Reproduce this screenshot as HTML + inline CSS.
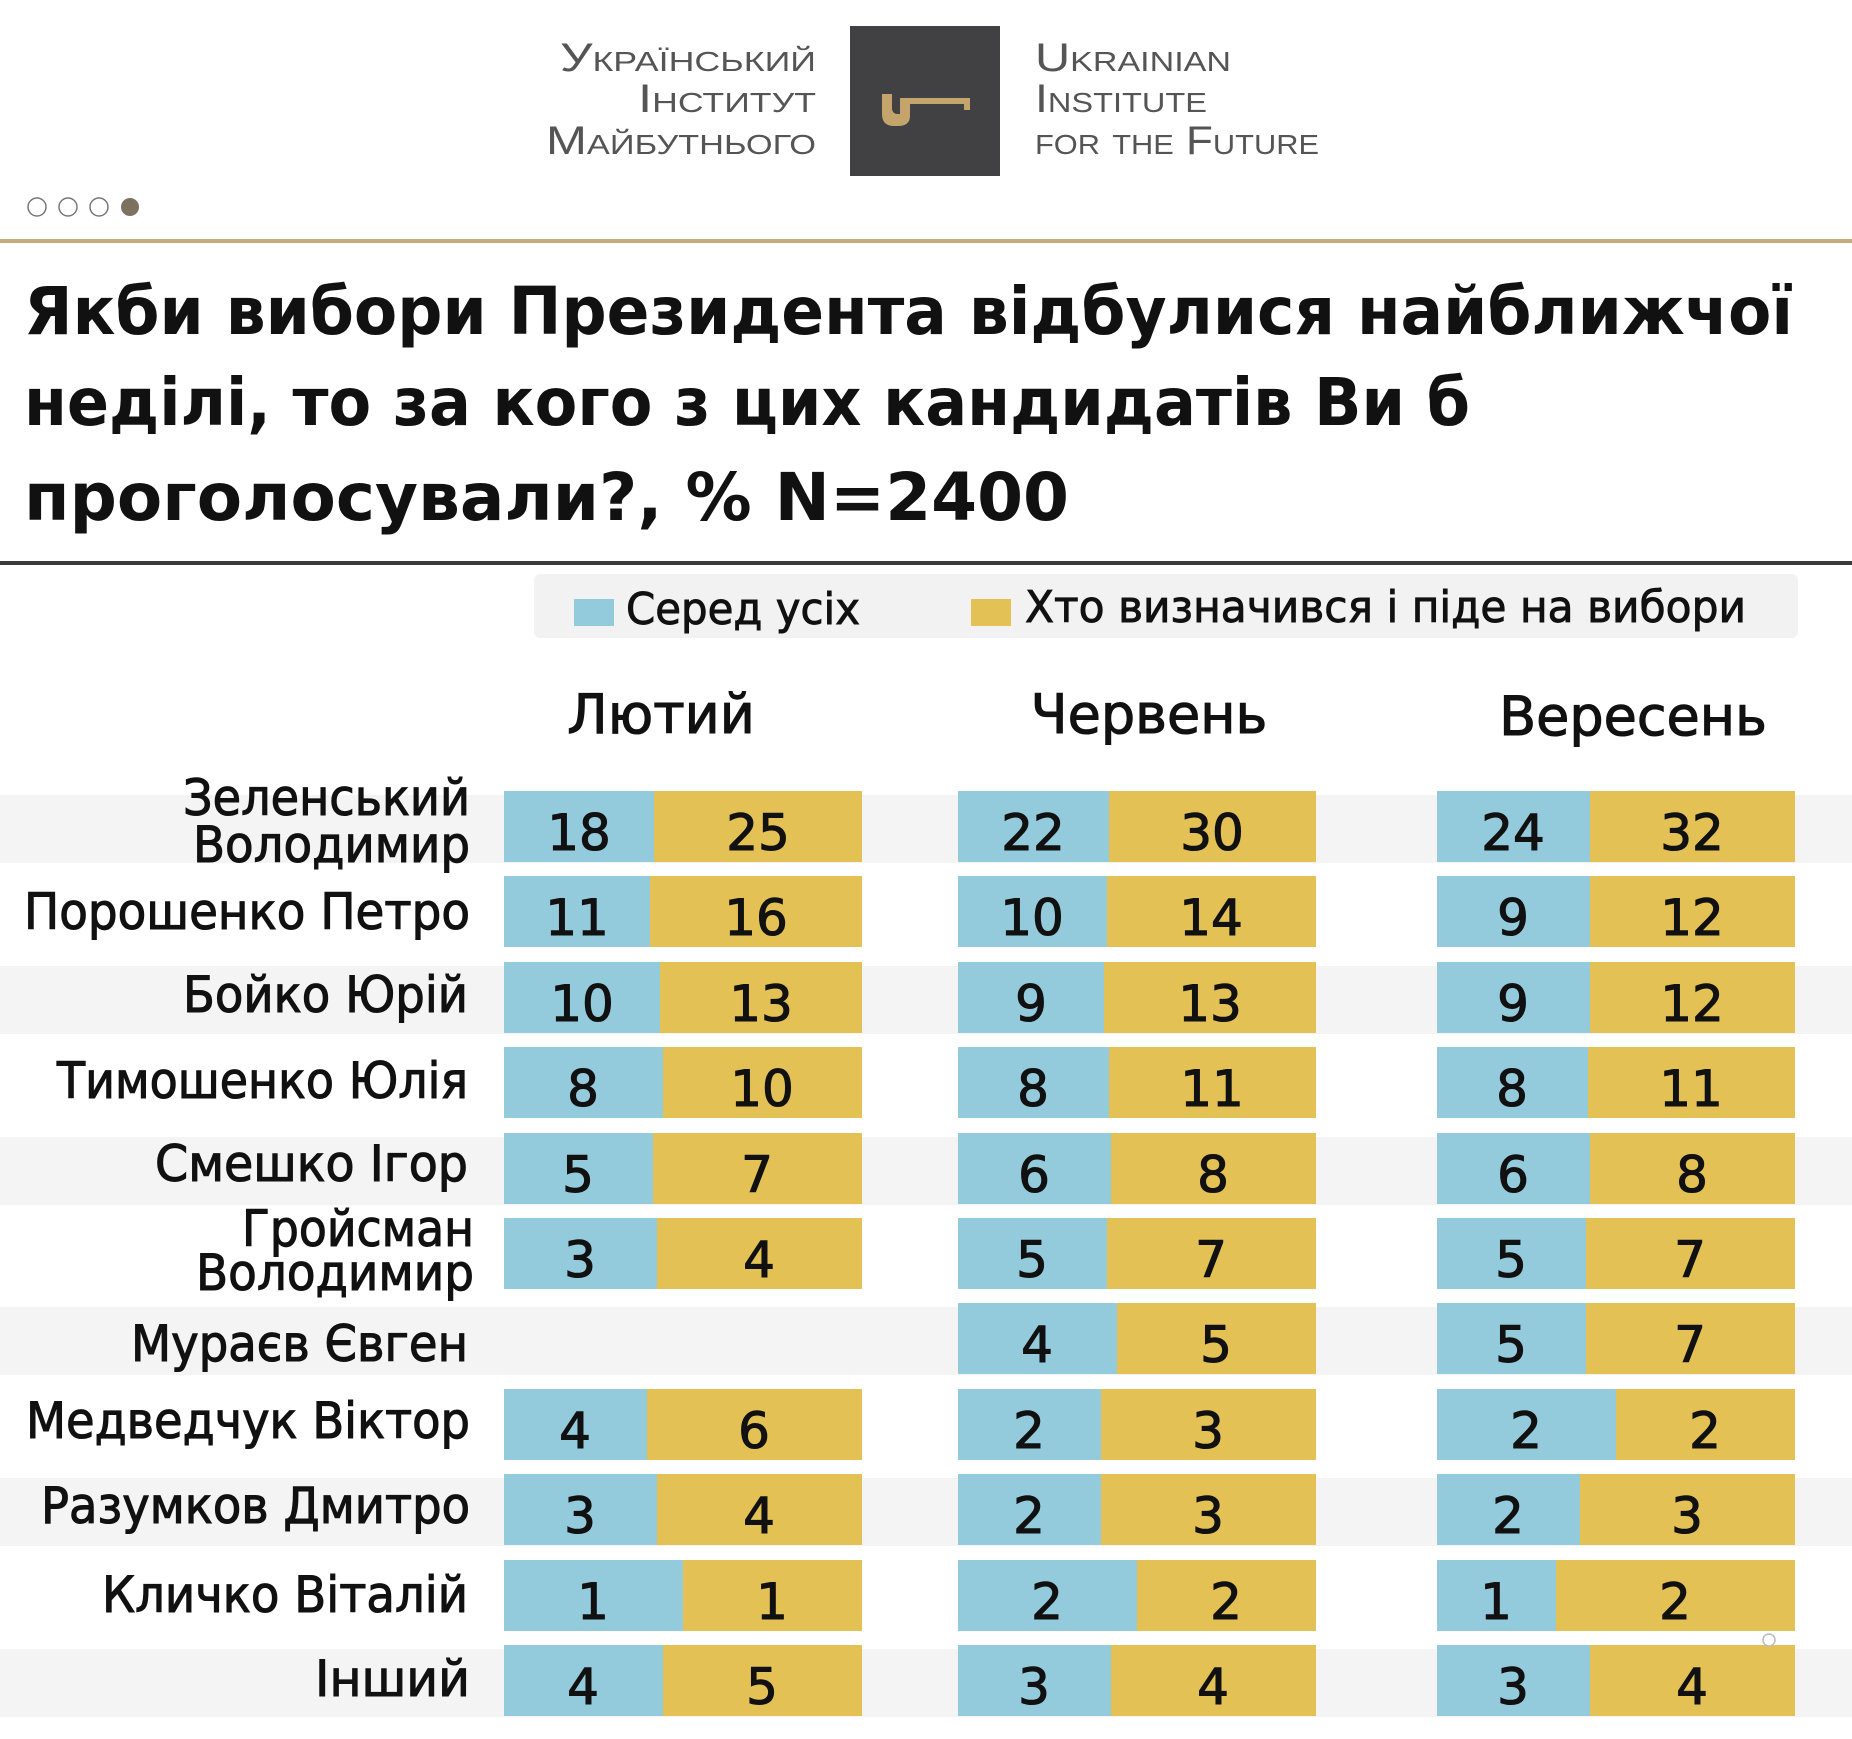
<!DOCTYPE html>
<html><head><meta charset="utf-8"><style>
html,body{margin:0;padding:0;background:#fff;}
svg{display:block;}
text{font-family:"DejaVu Sans","Liberation Sans",sans-serif;fill:#111;}
.lg{font-family:"Liberation Sans",sans-serif;fill:#555;font-size:40px;font-variant:small-caps;}
.t{font-weight:bold;font-size:66px;}
.l{font-size:50px;stroke:#111;stroke-width:1.1px;}
.n{font-size:50px;text-anchor:middle;stroke:#111;stroke-width:1.1px;}
.h{font-size:54px;text-anchor:middle;stroke:#111;stroke-width:1.1px;}
.lgd{font-size:44px;stroke:#111;stroke-width:0.9px;}
</style></head><body>
<svg width="1852" height="1739" viewBox="0 0 1852 1739" xmlns="http://www.w3.org/2000/svg">
<text class="lg" x="816" y="71" text-anchor="end" textLength="256" lengthAdjust="spacingAndGlyphs">Український</text>
<text class="lg" x="816" y="112" text-anchor="end" textLength="178" lengthAdjust="spacingAndGlyphs">Інститут</text>
<text class="lg" x="816" y="154" text-anchor="end" textLength="270" lengthAdjust="spacingAndGlyphs">Майбутнього</text>
<rect x="850" y="26" width="150" height="150" fill="#414042"/>
<path d="M882 94 h10 v14 q0 6 6 6 h2 v-16 h70 v12 h-6 v-6 h-54 v12 q0 10 -12 10 h-4 q-12 0 -12 -12 z" fill="#c4a46a"/>
<text class="lg" x="1035" y="71" textLength="196" lengthAdjust="spacingAndGlyphs">Ukrainian</text>
<text class="lg" x="1035" y="112" textLength="172" lengthAdjust="spacingAndGlyphs">Institute</text>
<text class="lg" x="1035" y="154" textLength="284" lengthAdjust="spacingAndGlyphs">for the Future</text>
<circle cx="37" cy="207" r="9" fill="none" stroke="#777" stroke-width="1.5"/>
<circle cx="68" cy="207" r="9" fill="none" stroke="#777" stroke-width="1.5"/>
<circle cx="99" cy="207" r="9" fill="none" stroke="#777" stroke-width="1.5"/>
<circle cx="130" cy="207" r="9" fill="#7d7160"/>
<rect x="0" y="239" width="1852" height="4" fill="#c4ac7c"/>
<text class="t" x="24" y="334" textLength="1769" lengthAdjust="spacingAndGlyphs">Якби вибори Президента відбулися найближчої</text>
<text class="t" x="24" y="425" textLength="1446" lengthAdjust="spacingAndGlyphs">неділі, то за кого з цих кандидатів Ви б</text>
<text class="t" x="24" y="520" textLength="1045" lengthAdjust="spacingAndGlyphs">проголосували?, % N=2400</text>
<rect x="0" y="561" width="1852" height="4" fill="#3a3a3a"/>
<rect x="534" y="574" width="1264" height="64" rx="6" fill="#f2f2f2"/>
<rect x="574" y="599" width="40" height="27" fill="#94cbdc"/>
<text class="lgd" x="626" y="624" textLength="234" lengthAdjust="spacingAndGlyphs">Серед усіх</text>
<rect x="971" y="599" width="40" height="27" fill="#e3c155"/>
<text class="lgd" x="1025" y="622" textLength="721" lengthAdjust="spacingAndGlyphs">Хто визначився і піде на вибори</text>
<text class="h" x="661" y="733">Лютий</text>
<text class="h" x="1149" y="733">Червень</text>
<text class="h" x="1633" y="735">Вересень</text>
<g fill="#f4f4f4">
<rect x="0" y="795" width="1852" height="68"/>
<rect x="0" y="966" width="1852" height="68"/>
<rect x="0" y="1137" width="1852" height="68"/>
<rect x="0" y="1307" width="1852" height="68"/>
<rect x="0" y="1478" width="1852" height="68"/>
<rect x="0" y="1649" width="1852" height="68"/>
</g>
<g fill="#e3c155">
<rect x="504" y="791" width="358" height="71"/><rect x="958" y="791" width="358" height="71"/><rect x="1437" y="791" width="358" height="71"/>
<rect x="504" y="876" width="358" height="71"/><rect x="958" y="876" width="358" height="71"/><rect x="1437" y="876" width="358" height="71"/>
<rect x="504" y="962" width="358" height="71"/><rect x="958" y="962" width="358" height="71"/><rect x="1437" y="962" width="358" height="71"/>
<rect x="504" y="1047" width="358" height="71"/><rect x="958" y="1047" width="358" height="71"/><rect x="1437" y="1047" width="358" height="71"/>
<rect x="504" y="1133" width="358" height="71"/><rect x="958" y="1133" width="358" height="71"/><rect x="1437" y="1133" width="358" height="71"/>
<rect x="504" y="1218" width="358" height="71"/><rect x="958" y="1218" width="358" height="71"/><rect x="1437" y="1218" width="358" height="71"/>
<rect x="958" y="1303" width="358" height="71"/><rect x="1437" y="1303" width="358" height="71"/>
<rect x="504" y="1389" width="358" height="71"/><rect x="958" y="1389" width="358" height="71"/><rect x="1437" y="1389" width="358" height="71"/>
<rect x="504" y="1474" width="358" height="71"/><rect x="958" y="1474" width="358" height="71"/><rect x="1437" y="1474" width="358" height="71"/>
<rect x="504" y="1560" width="358" height="71"/><rect x="958" y="1560" width="358" height="71"/><rect x="1437" y="1560" width="358" height="71"/>
<rect x="504" y="1645" width="358" height="71"/><rect x="958" y="1645" width="358" height="71"/><rect x="1437" y="1645" width="358" height="71"/>
</g>
<g fill="#94cbdc">
<rect x="504" y="791" width="150" height="71"/><rect x="958" y="791" width="151" height="71"/><rect x="1437" y="791" width="153" height="71"/>
<rect x="504" y="876" width="146" height="71"/><rect x="958" y="876" width="149" height="71"/><rect x="1437" y="876" width="153" height="71"/>
<rect x="504" y="962" width="156" height="71"/><rect x="958" y="962" width="146" height="71"/><rect x="1437" y="962" width="153" height="71"/>
<rect x="504" y="1047" width="159" height="71"/><rect x="958" y="1047" width="151" height="71"/><rect x="1437" y="1047" width="151" height="71"/>
<rect x="504" y="1133" width="149" height="71"/><rect x="958" y="1133" width="153" height="71"/><rect x="1437" y="1133" width="153" height="71"/>
<rect x="504" y="1218" width="153" height="71"/><rect x="958" y="1218" width="149" height="71"/><rect x="1437" y="1218" width="149" height="71"/>
<rect x="958" y="1303" width="159" height="71"/><rect x="1437" y="1303" width="149" height="71"/>
<rect x="504" y="1389" width="143" height="71"/><rect x="958" y="1389" width="143" height="71"/><rect x="1437" y="1389" width="179" height="71"/>
<rect x="504" y="1474" width="153" height="71"/><rect x="958" y="1474" width="143" height="71"/><rect x="1437" y="1474" width="143" height="71"/>
<rect x="504" y="1560" width="179" height="71"/><rect x="958" y="1560" width="179" height="71"/><rect x="1437" y="1560" width="119" height="71"/>
<rect x="504" y="1645" width="159" height="71"/><rect x="958" y="1645" width="153" height="71"/><rect x="1437" y="1645" width="153" height="71"/>
</g>
<g>
<text class="n" x="579" y="850">18</text><text class="n" x="758" y="850">25</text><text class="n" x="1033" y="850">22</text><text class="n" x="1212" y="850">30</text><text class="n" x="1513" y="850">24</text><text class="n" x="1692" y="850">32</text>
<text class="n" x="577" y="935">11</text><text class="n" x="756" y="935">16</text><text class="n" x="1032" y="935">10</text><text class="n" x="1211" y="935">14</text><text class="n" x="1513" y="935">9</text><text class="n" x="1692" y="935">12</text>
<text class="n" x="582" y="1021">10</text><text class="n" x="761" y="1021">13</text><text class="n" x="1031" y="1021">9</text><text class="n" x="1210" y="1021">13</text><text class="n" x="1513" y="1021">9</text><text class="n" x="1692" y="1021">12</text>
<text class="n" x="583" y="1106">8</text><text class="n" x="762" y="1106">10</text><text class="n" x="1033" y="1106">8</text><text class="n" x="1212" y="1106">11</text><text class="n" x="1512" y="1106">8</text><text class="n" x="1691" y="1106">11</text>
<text class="n" x="578" y="1192">5</text><text class="n" x="757" y="1192">7</text><text class="n" x="1034" y="1192">6</text><text class="n" x="1213" y="1192">8</text><text class="n" x="1513" y="1192">6</text><text class="n" x="1692" y="1192">8</text>
<text class="n" x="580" y="1277">3</text><text class="n" x="759" y="1277">4</text><text class="n" x="1032" y="1277">5</text><text class="n" x="1211" y="1277">7</text><text class="n" x="1511" y="1277">5</text><text class="n" x="1690" y="1277">7</text>
<text class="n" x="1037" y="1362">4</text><text class="n" x="1216" y="1362">5</text><text class="n" x="1511" y="1362">5</text><text class="n" x="1690" y="1362">7</text>
<text class="n" x="575" y="1448">4</text><text class="n" x="754" y="1448">6</text><text class="n" x="1029" y="1448">2</text><text class="n" x="1208" y="1448">3</text><text class="n" x="1526" y="1448">2</text><text class="n" x="1705" y="1448">2</text>
<text class="n" x="580" y="1533">3</text><text class="n" x="759" y="1533">4</text><text class="n" x="1029" y="1533">2</text><text class="n" x="1208" y="1533">3</text><text class="n" x="1508" y="1533">2</text><text class="n" x="1687" y="1533">3</text>
<text class="n" x="593" y="1619">1</text><text class="n" x="772" y="1619">1</text><text class="n" x="1047" y="1619">2</text><text class="n" x="1226" y="1619">2</text><text class="n" x="1496" y="1619">1</text><text class="n" x="1675" y="1619">2</text>
<text class="n" x="583" y="1704">4</text><text class="n" x="762" y="1704">5</text><text class="n" x="1034" y="1704">3</text><text class="n" x="1213" y="1704">4</text><text class="n" x="1513" y="1704">3</text><text class="n" x="1692" y="1704">4</text>
</g>
<g text-anchor="end">
<text class="l" x="470" y="815" textLength="287" lengthAdjust="spacingAndGlyphs">Зеленський</text>
<text class="l" x="470" y="862" textLength="277" lengthAdjust="spacingAndGlyphs">Володимир</text>
<text class="l" x="470" y="929" textLength="446" lengthAdjust="spacingAndGlyphs">Порошенко Петро</text>
<text class="l" x="468" y="1012" textLength="285" lengthAdjust="spacingAndGlyphs">Бойко Юрій</text>
<text class="l" x="468" y="1098" textLength="411" lengthAdjust="spacingAndGlyphs">Тимошенко Юлія</text>
<text class="l" x="468" y="1181" textLength="313" lengthAdjust="spacingAndGlyphs">Смешко Ігор</text>
<text class="l" x="474" y="1246" textLength="232" lengthAdjust="spacingAndGlyphs">Гройсман</text>
<text class="l" x="474" y="1290" textLength="278" lengthAdjust="spacingAndGlyphs">Володимир</text>
<text class="l" x="468" y="1361" textLength="337" lengthAdjust="spacingAndGlyphs">Мураєв Євген</text>
<text class="l" x="470" y="1438" textLength="444" lengthAdjust="spacingAndGlyphs">Медведчук Віктор</text>
<text class="l" x="470" y="1523" textLength="429" lengthAdjust="spacingAndGlyphs">Разумков Дмитро</text>
<text class="l" x="468" y="1612" textLength="366" lengthAdjust="spacingAndGlyphs">Кличко Віталій</text>
<text class="l" x="470" y="1696" textLength="155" lengthAdjust="spacingAndGlyphs">Інший</text>
</g>
<circle cx="1769" cy="1640" r="6" fill="#fff" stroke="#bbb" stroke-width="1.5"/>
</svg>
</body></html>
